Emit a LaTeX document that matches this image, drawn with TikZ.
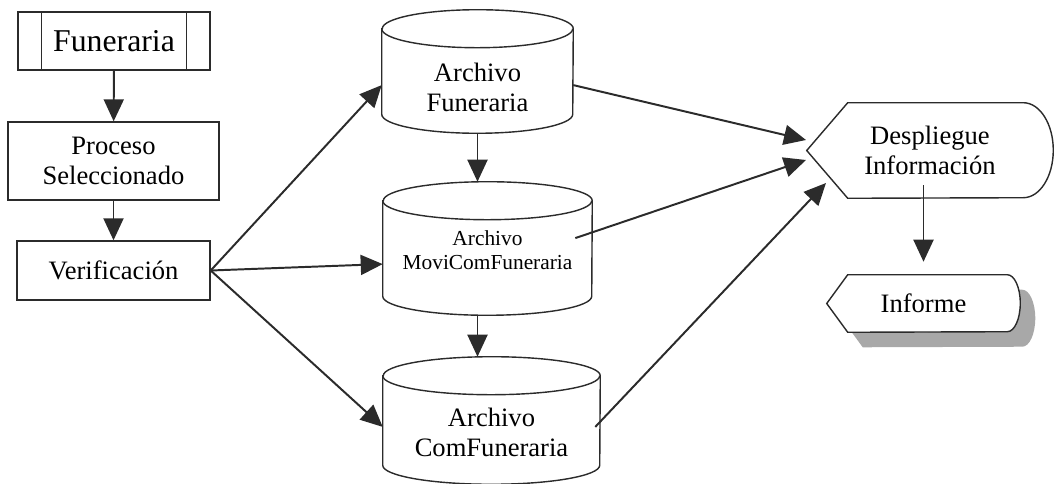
\documentclass[tikz,border=0pt]{standalone}
\usepackage{fontspec}
\setmainfont{Liberation Serif}
\usetikzlibrary{arrows.meta,shadows,backgrounds}
\definecolor{ink}{HTML}{2B2B2B}
\definecolor{shade}{HTML}{A8A8A8}
\tikzset{
  >={Triangle[length=5.5mm,width=5mm]},
  % cajas
  proc/.style={rectangle,draw=ink,line width=1pt,fill=white,inner sep=0pt,align=center,
               font=\fontsize{18.9}{21.5}\selectfont},
  store/.style={rectangle,inner sep=0pt,align=center,font=\fontsize{18.9}{21.5}\selectfont},
  disp/.style={rectangle,inner sep=0pt,align=center,font=\fontsize{18.9}{21.5}\selectfont},
  dline/.style={draw=ink,line width=1pt,fill=white},
  arr/.style={->,draw=ink,line width=1.4pt},
}
\begin{document}
\begin{tikzpicture}
  \useasboundingbox (0,0) rectangle (26.35,-12.1);
  % entrada
  \node[proc,minimum width=4.8cm,minimum height=1.45cm,font=\fontsize{22.6}{26}\selectfont] (fun) at (2.85,-1.025) {Funeraria};
  \draw[draw=ink,line width=1pt] ([xshift=0.6cm]fun.north west) -- ([xshift=0.6cm]fun.south west)
    ([xshift=-0.6cm]fun.north east) -- ([xshift=-0.6cm]fun.south east);
  \node[proc,minimum width=5.275cm,minimum height=1.95cm] (pro) at (2.8375,-4.025) {Proceso\\Seleccionado};
  \node[proc,minimum width=4.825cm,minimum height=1.475cm] (ver) at (2.8375,-6.7625) {Verificación};
  % archivos
  \node[store,minimum width=4.775cm,minimum height=3.075cm,
        label={[store,yshift=-0.39cm]center:{Archivo\\Funeraria}}] (af) at (11.9375,-1.7875) {};
  \node[store,minimum width=5.225cm,minimum height=3.325cm,
        label={[store,yshift=-0.04cm,font=\fontsize{15.2}{17}\selectfont]center:{Archivo\\MoviComFuneraria}}] (amc) at (12.1875,-6.2125) {};
  \node[store,minimum width=5.425cm,minimum height=3.175cm,
        label={[store,yshift=-0.29cm]center:{Archivo\\ComFuneraria}}] (acf) at (12.2875,-10.5125) {};
  % salida
  \node[disp,minimum width=6.15cm,minimum height=2.375cm] (dsp) at (23.25,-3.7625) {Despliegue\\Información};
  \node[disp,minimum width=4.825cm,minimum height=1.425cm] (inf) at (23.0875,-7.5875) {Informe};
  \begin{scope}[on background layer]
    \foreach \s/\r in {af/2.3875,amc/2.6125,acf/2.7125} {
      \draw[dline] ([yshift=-0.475cm]\s.north west) -- ([yshift=0.475cm]\s.south west)
        arc[start angle=180,end angle=360,x radius=\r cm,y radius=0.475cm]
        -- ([yshift=-0.475cm]\s.north east)
        arc[start angle=0,end angle=180,x radius=\r cm,y radius=0.475cm] -- cycle;
      \draw[draw=ink,line width=1pt] ([yshift=-0.475cm]\s.north west)
        arc[start angle=180,end angle=360,x radius=\r cm,y radius=0.475cm];
    }
    \draw[dline] (dsp.west) -- ([xshift=1.025cm]dsp.north west) -- ([xshift=-0.75cm]dsp.north east)
      arc[start angle=90,end angle=-90,x radius=0.75cm,y radius=1.1875cm]
      -- ([xshift=1.025cm]dsp.south west) -- cycle;
    \draw[dline,drop shadow={shadow xshift=0.375cm,shadow yshift=-0.375cm,fill=shade,opacity=1}]
      (inf.west) -- ([xshift=0.525cm]inf.north west) -- ([xshift=-0.325cm]inf.north east)
      arc[start angle=90,end angle=-90,x radius=0.325cm,y radius=0.7125cm]
      -- ([xshift=0.525cm]inf.south west) -- cycle;
  \end{scope}
  % flechas
  \draw[arr] (fun) -- (pro);
  \draw[arr] (pro) -- (ver);
  \draw[arr] (ver.east) -- ([yshift=-0.34cm]af.west);
  \draw[arr] (ver.east) -- ([yshift=-0.39cm]amc.west);
  \draw[arr] (ver.east) -- ([yshift=-0.16cm]acf.west);
  \draw[arr] (af.south) -- (af.south |- amc.north);
  \draw[arr] (af.south |- amc.south) -- (af.south |- acf.north);
  \coordinate (d1) at (20.15,-3.5);
  \coordinate (d2) at (20.15,-4.0);
  \coordinate (d3) at (20.65,-4.575);
  \draw[arr] ([yshift=-0.34cm]af.east) -- (d1);
  \draw[arr] ([xshift=-0.425cm,yshift=0.26cm]amc.east) -- (d2);
  \draw[arr] ([xshift=-0.125cm,yshift=-0.16cm]acf.east) -- (d3);
  \draw[arr] (inf.north |- dsp.south) ++(0,0.325) -- ([yshift=0.325cm]inf.north);
\end{tikzpicture}
\end{document}
